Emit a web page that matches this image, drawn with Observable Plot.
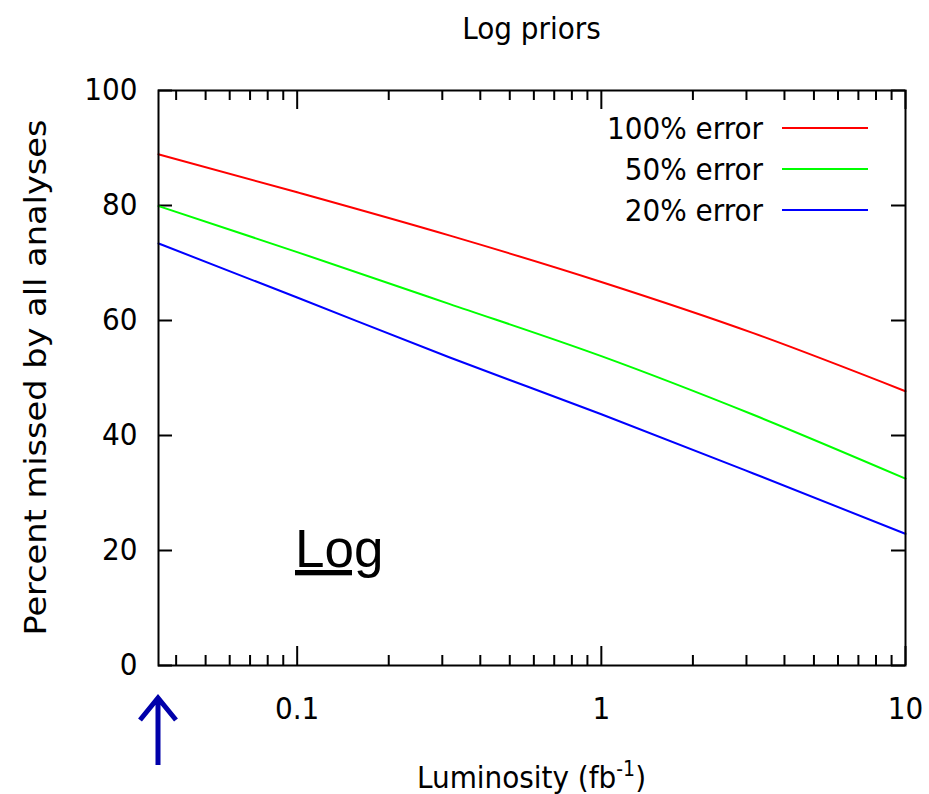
<!DOCTYPE html>
<html><head><meta charset="utf-8">
<script src="https://cdn.jsdelivr.net/npm/d3@7"></script>
<script src="https://cdn.jsdelivr.net/npm/@observablehq/plot@0.6"></script>
<style>
body{margin:0;background:#fff;}
</style></head><body><div id="chart"></div>
<script>
// ---- data ----
const luminosity = [0.035, 0.1, 0.316, 1, 3.16, 10];
const err100 = [88.9, 82.3, 74.8, 66.7, 57.8, 47.7];
const err50  = [79.9, 71.9, 62.9, 53.8, 43.6, 32.5];
const err20  = [73.4, 64.0, 53.6, 43.7, 33.4, 22.9];
const seriesNames = ["100% error", "50% error", "20% error"];
const seriesColors = ["#ff0000", "#00ff00", "#0000ff"];
const yTicks = [0, 20, 40, 60, 80, 100];
const xMajorTicks = [0.1, 1, 10];
const xMinorTicks = [0.04, 0.05, 0.06, 0.07, 0.08, 0.09, 0.2, 0.3, 0.4, 0.5, 0.6, 0.7, 0.8, 0.9, 2, 3, 4, 5, 6, 7, 8, 9];
const titleText = "Log priors";
const yLabel = "Percent missed by all analyses";
const xLabel = "Luminosity (fb";
const annotation = "Log";

const data = [];
[err100, err50, err20].forEach((arr, s) =>
  arr.forEach((v, i) => data.push({series: seriesNames[s], x: luminosity[i], y: v})));

// ---- layout ----
const W = 929, H = 794, mL = 158, mR = 24, mT = 90, mB = 129;
const plotW = W - mL - mR, plotH = H - mT - mB;
const font = '"DejaVu Sans Condensed","DejaVu Sans",sans-serif';
const fs = 31;

const chart = Plot.plot({
  width: W, height: H,
  marginLeft: mL, marginRight: mR, marginTop: mT, marginBottom: mB,
  style: {fontFamily: font, fontSize: fs + "px", background: "#fff", color: "#000", overflow: "visible"},
  x: {type: "log", domain: [0.035, 10], axis: null},
  y: {domain: [0, 100], axis: null},
  color: {domain: seriesNames, range: seriesColors},
  marks: [
    // ticks (inward, mirrored)
    Plot.tickX(xMajorTicks, {x: d => d, insetTop: plotH - 19, stroke: "#000", strokeWidth: 2}),
    Plot.tickX(xMajorTicks, {x: d => d, insetBottom: plotH - 19, stroke: "#000", strokeWidth: 2}),
    Plot.tickX(xMinorTicks, {x: d => d, insetTop: plotH - 10, stroke: "#000", strokeWidth: 2}),
    Plot.tickX(xMinorTicks, {x: d => d, insetBottom: plotH - 10, stroke: "#000", strokeWidth: 2}),
    Plot.tickY(yTicks, {y: d => d, insetRight: plotW - 14, stroke: "#000", strokeWidth: 2}),
    Plot.tickY(yTicks, {y: d => d, insetLeft: plotW - 14, stroke: "#000", strokeWidth: 2}),
    // series
    Plot.line(data, {x: "x", y: "y", z: "series", stroke: "series", strokeWidth: 2, curve: "monotone-x"}),
    Plot.frame({stroke: "#000", strokeWidth: 2}),
    // tick labels
    Plot.text(yTicks, {y: d => d, text: d => String(d), frameAnchor: "left", dx: -21, textAnchor: "end", lineAnchor: "middle", fontSize: fs, fill: "#000"}),
    Plot.text(xMajorTicks, {x: d => d, text: d => String(d), frameAnchor: "bottom", dy: 44, textAnchor: "middle", lineAnchor: "middle", fontSize: fs, fill: "#000"})
  ]
});

document.getElementById("chart").appendChild(chart);

const svg = d3.select(chart);
const xs = chart.scale("x");

// y-axis label (stretched along its length like the reference)
svg.append("text").attr("transform", `translate(35,${mT + plotH / 2}) rotate(-90)`)
  .attr("text-anchor", "middle").attr("dominant-baseline", "central")
  .attr("textLength", 516).attr("lengthAdjust", "spacingAndGlyphs")
  .attr("font-family", font).attr("font-size", fs).attr("fill", "#000").text(yLabel);

// title
svg.append("text").attr("x", (mL + W - mR) / 2).attr("y", 28)
  .attr("text-anchor", "middle").attr("dominant-baseline", "central")
  .attr("font-family", font).attr("font-size", fs).attr("fill", "#000").text(titleText);

// x label with superscript
const xl = svg.append("text").attr("x", (mL + W - mR) / 2).attr("y", 788)
  .attr("text-anchor", "middle")
  .attr("font-family", font).attr("font-size", fs).attr("fill", "#000");
xl.append("tspan").text(xLabel);
xl.append("tspan").attr("font-size", 21).attr("dy", -12).text("-1");
xl.append("tspan").attr("dy", 12).text(")");

// legend
const legend = svg.append("g");
seriesNames.forEach((name, i) => {
  const y = 128 + i * 41;
  legend.append("text").attr("x", 763).attr("y", y)
    .attr("text-anchor", "end").attr("dominant-baseline", "central")
    .attr("font-family", font).attr("font-size", fs).attr("fill", "#000").text(name);
  legend.append("line").attr("x1", 782).attr("x2", 868).attr("y1", y).attr("y2", y)
    .attr("stroke", seriesColors[i]).attr("stroke-width", 2);
});

// "Log" annotation
svg.append("text").attr("x", 295).attr("y", 567).attr("text-anchor", "start")
  .attr("font-family", '"Liberation Sans", Arial, sans-serif').attr("font-size", 53)
  .attr("fill", "#000").attr("text-decoration", "underline").text(annotation);

// arrow under left edge
const ax = xs.apply(0.035);
svg.append("path")
  .attr("d", `M${ax},765 V698 M${ax - 18},720 L${ax},698 L${ax + 18},720`)
  .attr("fill", "none").attr("stroke", "#0000aa").attr("stroke-width", 5)
  .attr("stroke-linecap", "butt").attr("stroke-linejoin", "miter");
</script>
</body></html>
